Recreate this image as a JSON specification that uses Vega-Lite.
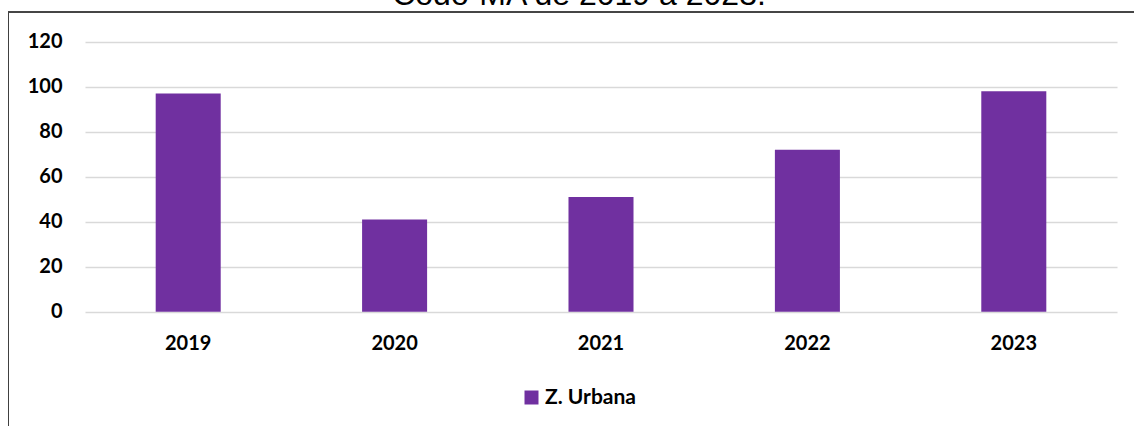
{
  "$schema": "https://vega.github.io/schema/vega-lite/v6.json",
  "width": 1126,
  "height": 414,
  "autosize": {"type": "none"},
  "padding": {"left": 8, "top": 12, "right": 0, "bottom": 0},
  "background": "white",
  "title": {
    "text": "Codó-MA de 2019 a 2023.",
    "font": "Liberation Sans",
    "fontSize": 32,
    "fontWeight": "normal",
    "color": "#000000",
    "anchor": "middle",
    "baseline": "bottom",
    "dx": 8,
    "dy": 32,
    "offset": 0
  },
  "data": {
    "values": [
      {"year": "2019", "value": 97, "serie": "Z. Urbana"},
      {"year": "2020", "value": 41, "serie": "Z. Urbana"},
      {"year": "2021", "value": 51, "serie": "Z. Urbana"},
      {"year": "2022", "value": 72, "serie": "Z. Urbana"},
      {"year": "2023", "value": 98, "serie": "Z. Urbana"}
    ]
  },
  "layer": [
    {
      "mark": {"type": "bar"},
      "encoding": {
        "x": {
          "field": "year",
          "type": "nominal",
          "scale": {"range": [77, 1109], "paddingInner": 0.685, "paddingOuter": 0.3425},
          "axis": {
            "orient": "bottom",
            "offset": -114,
            "domain": false,
            "ticks": false,
            "tickSize": 0,
            "labelPadding": 21,
            "labelFont": "Lato",
            "labelFontWeight": "bold",
            "labelFontSize": 20,
            "labelColor": "#000000",
            "labelAngle": 0,
            "grid": false,
            "title": null
          }
        },
        "y": {
          "field": "value",
          "type": "quantitative",
          "scale": {"domain": [-50.8, 133.2], "nice": false, "zero": false},
          "axis": {
            "orient": "left",
            "values": [0, 20, 40, 60, 80, 100, 120],
            "domain": true,
            "domainColor": "#404040",
            "domainWidth": 1,
            "ticks": false,
            "tickSize": 0,
            "labelPadding": -54,
            "labelFont": "Lato",
            "labelFontWeight": "bold",
            "labelFontSize": 20,
            "labelColor": "#000000",
            "grid": true,
            "gridColor": "#d9d9d9",
            "gridWidth": 1.5,
            "title": null
          }
        },
        "y2": {"datum": 0},
        "color": {
          "field": "serie",
          "type": "nominal",
          "scale": {"range": ["#7030A0"]},
          "legend": {
            "orient": "none",
            "legendX": 513,
            "legendY": 375,
            "title": null,
            "symbolType": "square",
            "symbolSize": 196,
            "symbolStrokeWidth": 0,
            "labelFont": "Lato",
            "labelFontWeight": "bold",
            "labelFontSize": 21,
            "labelColor": "#000000",
            "labelOffset": 3,
            "padding": 0
          }
        }
      }
    },
    {
      "mark": {"type": "rule", "color": "#404040", "strokeWidth": 1},
      "encoding": {"y": {"datum": 133.2}}
    }
  ],
  "config": {"view": {"stroke": null}}
}
